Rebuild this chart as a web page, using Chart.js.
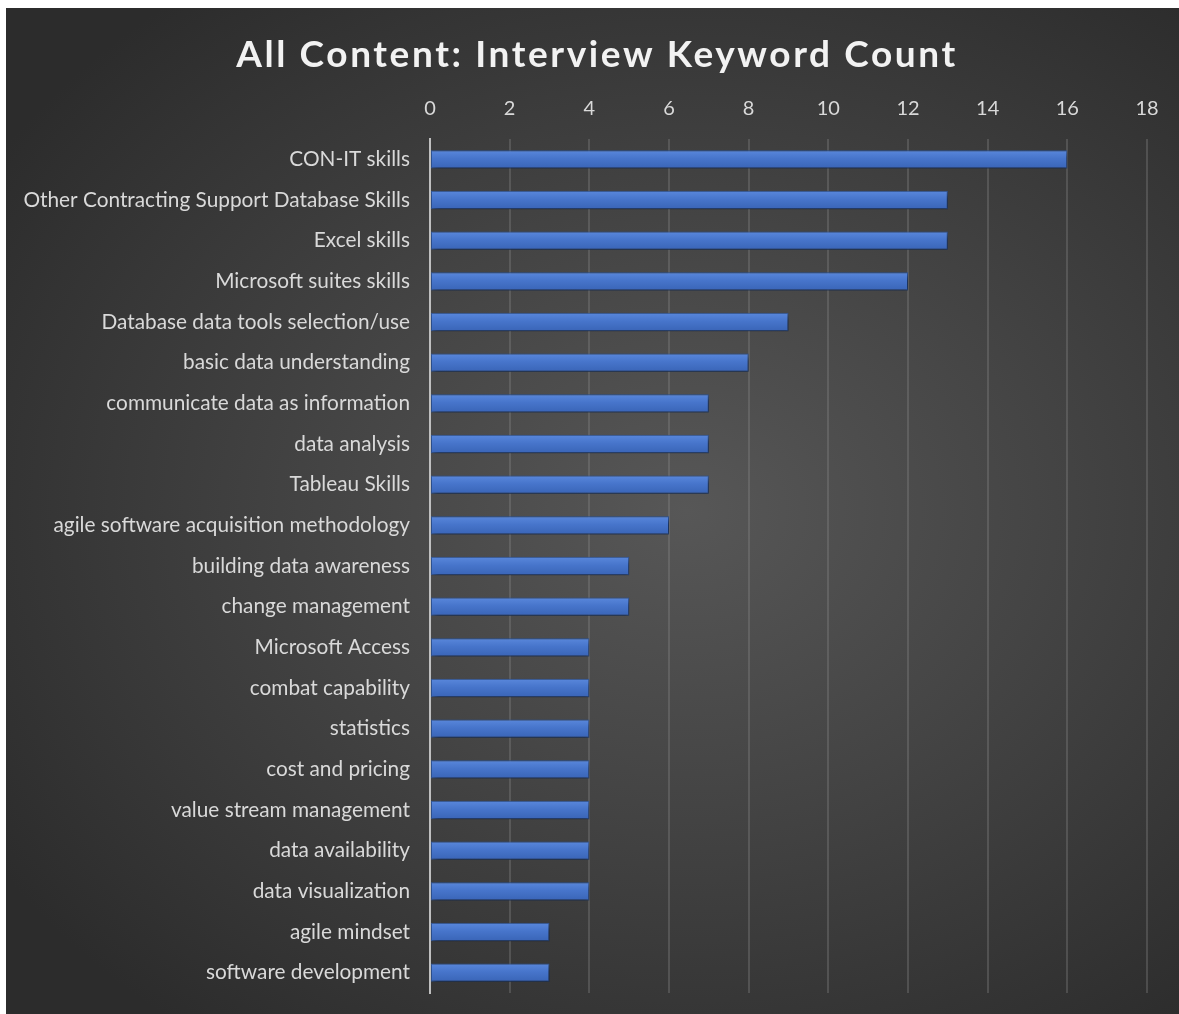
<!DOCTYPE html>
<html>
<head>
<meta charset="utf-8">
<title>All Content: Interview Keyword Count</title>
<script src="https://cdn.jsdelivr.net/npm/chart.js@4/dist/chart.umd.min.js"></script>
<style>
    html, body {
        margin: 0;
        padding: 0;
        background: #ffffff;
    }
    #chartBox {
        position: absolute;
        left: 6px;
        top: 8px;
        width: 1173px;
        height: 1006px;
        background: radial-gradient(ellipse 70% 65% at 58% 50%, #575757 0%, #444444 45%, #2c2c2c 100%);
    }
</style>
</head>
<body>
<div id="chartBox">
    <canvas id="keywordChart" width="1173" height="1006"></canvas>
</div>
<script>
// Keyword categories, most frequent first
const keywords = [
    'CON-IT skills',
    'Other Contracting Support Database Skills',
    'Excel skills',
    'Microsoft suites skills',
    'Database data tools selection/use',
    'basic data understanding',
    'communicate data as information',
    'data analysis',
    'Tableau Skills',
    'agile software acquisition methodology',
    'building data awareness',
    'change management',
    'Microsoft Access',
    'combat capability',
    'statistics',
    'cost and pricing',
    'value stream management',
    'data availability',
    'data visualization',
    'agile mindset',
    'software development'
];

// Number of interviews mentioning each keyword
const keywordCounts = [16, 13, 13, 12, 9, 8, 7, 7, 7, 6, 5, 5, 4, 4, 4, 4, 4, 4, 4, 3, 3];

// Axis range
const axisMin = 0;
const axisMax = 18;
const axisStep = 2;

const chartTitle = 'All Content: Interview Keyword Count';

const labelFont = 'Lato';

// Vertical gradient per bar, built from the bar's own pixel row
function barFill(context) {
    const chart = context.chart;
    const yScale = chart.scales.y;
    if (!yScale || context.dataIndex === undefined) {
        return '#4472c4';
    }
    const yc = yScale.getPixelForValue(context.dataIndex);
    if (!isFinite(yc)) {
        return '#4472c4';
    }
    const half = 9.5;
    const g = chart.ctx.createLinearGradient(0, yc - half, 0, yc + half);
    g.addColorStop(0, '#5a88dc');
    g.addColorStop(0.45, '#4775cb');
    g.addColorStop(1, '#3964b6');
    return g;
}

// Soft drop shadow under the bars
const barShadow = {
    id: 'barShadow',
    beforeDatasetDraw(chart) {
        const ctx = chart.ctx;
        ctx.save();
        ctx.shadowColor = 'rgba(0, 0, 0, 0.55)';
        ctx.shadowBlur = 5;
        ctx.shadowOffsetX = 2;
        ctx.shadowOffsetY = 3;
    },
    afterDatasetDraw(chart) {
        chart.ctx.restore();
    }
};

// Spaced-out bold title drawn across the top
const spacedTitle = {
    id: 'spacedTitle',
    afterDraw(chart) {
        const ctx = chart.ctx;
        ctx.save();
        ctx.font = 'bold 37px ' + labelFont;
        ctx.fillStyle = '#f2f2f2';
        ctx.textAlign = 'center';
        ctx.textBaseline = 'alphabetic';
        ctx.letterSpacing = '2.6px';
        ctx.fillText(chartTitle, 591, 59);
        ctx.restore();
    }
};

new Chart(document.getElementById('keywordChart'), {
    type: 'bar',
    data: {
        labels: keywords,
        datasets: [{
            label: 'Count',
            data: keywordCounts,
            backgroundColor: barFill,
            borderColor: '#2f5597',
            borderWidth: 1,
            borderSkipped: false,
            barPercentage: 0.9,
            categoryPercentage: 0.5
        }]
    },
    options: {
        indexAxis: 'y',
        responsive: false,
        animation: false,
        devicePixelRatio: 1,
        layout: {
            padding: { top: 71, right: 32, bottom: 21, left: 0 }
        },
        plugins: {
            legend: { display: false },
            title: { display: false },
            tooltip: { enabled: false }
        },
        scales: {
            x: {
                position: 'top',
                min: axisMin,
                max: axisMax,
                afterFit(scale) {
                    scale.height = 60;
                },
                ticks: {
                    stepSize: axisStep,
                    color: '#d9d9d9',
                    font: { family: labelFont, size: 20 },
                    padding: 18
                },
                grid: {
                    color: 'rgba(140, 140, 140, 0.32)',
                    lineWidth: 2,
                    drawTicks: false
                },
                border: { display: false }
            },
            y: {
                afterFit(scale) {
                    // fixed label column; no extra room for label overhang
                    scale.width = 424;
                    scale.paddingTop = 0;
                    scale.paddingBottom = 0;
                },
                ticks: {
                    color: '#d9d9d9',
                    font: { family: labelFont, size: 20.8 },
                    padding: 20
                },
                grid: { display: false, drawTicks: false },
                border: { color: '#bfbfbf', width: 2 }
            }
        }
    },
    plugins: [barShadow, spacedTitle]
});
</script>
</body>
</html>
